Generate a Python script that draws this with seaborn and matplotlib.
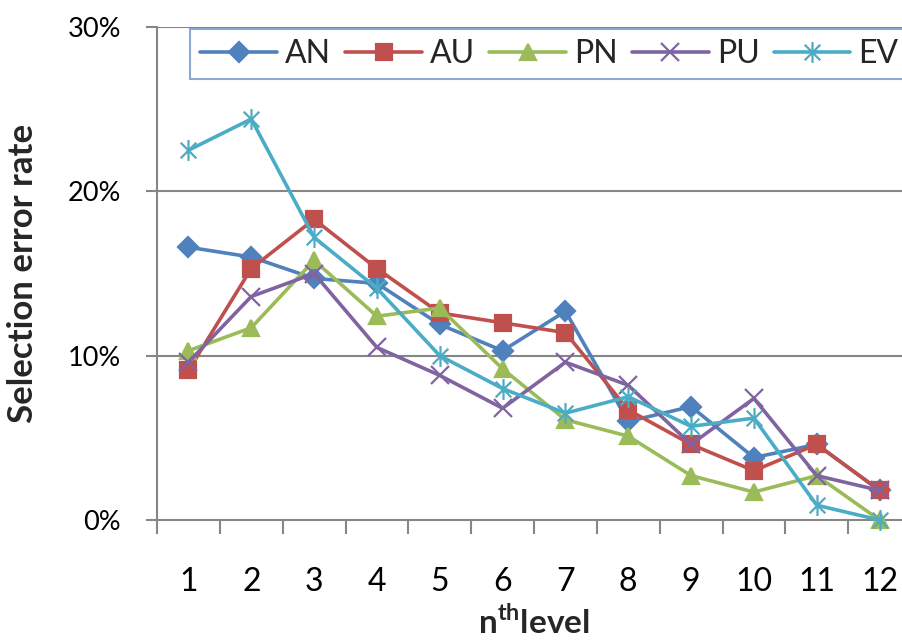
import matplotlib
matplotlib.use("Agg")
import matplotlib.pyplot as plt
from matplotlib.path import Path
from matplotlib.ticker import FixedLocator, FuncFormatter
import seaborn as sns

# Selection error rate (%) per level for each technique
levels = list(range(1, 13))
series_names = ["AN", "AU", "PN", "PU", "EV"]
an = [16.6, 16.0, 14.7, 14.4, 11.9, 10.3, 12.7, 6.0, 6.9, 3.8, 4.6, 1.8]
au = [9.1, 15.3, 18.3, 15.3, 12.6, 12.0, 11.4, 6.7, 4.6, 3.0, 4.6, 1.8]
pn = [10.3, 11.7, 15.8, 12.4, 12.9, 9.2, 6.1, 5.1, 2.7, 1.7, 2.7, 0.0]
pu = [9.6, 13.6, 15.0, 10.5, 8.8, 6.8, 9.6, 8.2, 4.6, 7.4, 2.7, 1.8]
ev = [22.5, 24.4, 17.2, 14.1, 10.0, 8.0, 6.5, 7.5, 5.7, 6.2, 0.9, 0.0]
y_ticks = [0, 10, 20, 30]

colors = ["#4F81BD", "#C0504D", "#9BBB59", "#8064A2", "#4BACC6"]

# asterisk marker: vertical stroke plus a diagonal cross
asterisk = Path(
    [(0, -1), (0, 1), (-0.75, -0.75), (0.75, 0.75), (-0.75, 0.75), (0.75, -0.75)],
    [Path.MOVETO, Path.LINETO, Path.MOVETO, Path.LINETO, Path.MOVETO, Path.LINETO],
)
markers = ["D", "s", "^", "x", asterisk]
sizes = [10, 11, 11, 13, 15]

sns.set_theme(style="white")
plt.rcParams["font.family"] = ["Lato", "DejaVu Sans"]
plt.rcParams["mathtext.fontset"] = "custom"
plt.rcParams["mathtext.bf"] = "Lato:bold"
plt.rcParams["mathtext.rm"] = "Lato"

fig = plt.figure(figsize=(9.02, 6.43), dpi=100)
ax = fig.add_axes([157 / 902, 1 - 520 / 643, 754 / 902, 493 / 643])

grid_c = "#868686"
for y in y_ticks[1:]:
    ax.axhline(y, color=grid_c, lw=1.5, zorder=0)

for name, vals, c, m, s in zip(series_names, [an, au, pn, pu, ev], colors, markers, sizes):
    sns.lineplot(x=levels, y=vals, ax=ax, color=c, marker=m, markersize=s,
                 linewidth=2.6, markeredgecolor=c, markerfacecolor=c,
                 markeredgewidth=1.6, label=name, clip_on=False, zorder=3)

ax.set_xlim(0.5, 12.5)
ax.set_ylim(0, 30)
for side in ["top", "right"]:
    ax.spines[side].set_visible(False)
for side in ["left", "bottom"]:
    ax.spines[side].set_color(grid_c)
    ax.spines[side].set_linewidth(1.5)

ax.xaxis.set_major_locator(FixedLocator(levels))
ax.xaxis.set_minor_locator(FixedLocator([x + 0.5 for x in range(0, 13)]))
ax.set_xticklabels([str(v) for v in levels])
ax.tick_params(axis="x", which="major", length=0, pad=34, labelsize=23, colors="black")
ax.tick_params(axis="x", which="minor", length=10, width=1.5, color=grid_c, direction="out", bottom=True)

ax.yaxis.set_major_locator(FixedLocator(y_ticks))
ax.yaxis.set_major_formatter(FuncFormatter(lambda v, p: f"{v:.0f}%"))
ax.tick_params(axis="y", length=8, width=1.5, color=grid_c, direction="out", left=True,
               pad=18, labelsize=19.5, labelcolor="black")

ax.set_ylabel("Selection error rate", fontsize=25, fontweight="bold")
ax.yaxis.set_label_coords(-0.157, 0.5)
ax.set_xlabel(r"n$^{\mathbf{th}}$level", fontsize=24, fontweight="bold")
ax.xaxis.set_label_coords(0.5, -0.17)

leg = ax.legend(ncol=5, loc="upper left", bbox_to_anchor=(190 / 902, 1 - 29 / 643),
                bbox_transform=fig.transFigure, frameon=True, fancybox=False,
                edgecolor="#6F93C8", fontsize=23, handlelength=2.4,
                columnspacing=0.45, handletextpad=0.25, borderaxespad=0,
                borderpad=0.32, facecolor="white")
leg.get_frame().set_linewidth(1.5)

fig.savefig("out.png", dpi=100)
